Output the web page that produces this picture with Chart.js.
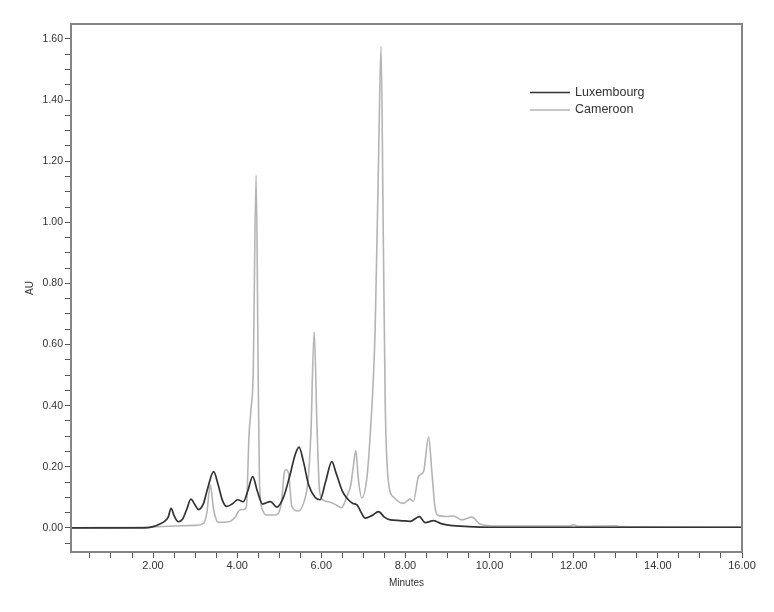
<!DOCTYPE html>
<html>
<head>
<meta charset="utf-8">
<script src="https://cdn.jsdelivr.net/npm/chart.js@4/dist/chart.umd.min.js"></script>
<style>
  html, body { margin: 0; padding: 0; background: #fff; }
  #wrap { width: 774px; height: 612px; }
</style>
</head>
<body>
<div id="wrap"><canvas id="chart" width="774" height="612"></canvas></div>
<script>
// Chromatogram data (minutes, AU)
const seriesNames = ['Luxembourg', 'Cameroon'];

const luxTime = [0.05, 1.8, 2.0, 2.15, 2.28, 2.36, 2.43, 2.5, 2.6, 2.7, 2.8, 2.9, 3.0, 3.08, 3.2, 3.3, 3.44, 3.55, 3.65, 3.75, 3.9, 4.01, 4.15, 4.25, 4.37, 4.48, 4.6, 4.79, 4.94, 5.1, 5.25, 5.38, 5.47, 5.57, 5.7, 5.85, 5.97, 6.1, 6.25, 6.35, 6.5, 6.61, 6.75, 6.85, 6.95, 7.04, 7.2, 7.36, 7.5, 7.64, 7.87, 8.11, 8.33, 8.47, 8.67, 8.85, 9.06, 9.5, 10.0, 16.0];
const luxAU = [0.0, 0.0, 0.004, 0.012, 0.022, 0.035, 0.064, 0.04, 0.02, 0.028, 0.06, 0.094, 0.075, 0.06, 0.08, 0.13, 0.184, 0.14, 0.09, 0.07, 0.08, 0.092, 0.086, 0.12, 0.168, 0.12, 0.078, 0.086, 0.068, 0.1, 0.17, 0.24, 0.264, 0.22, 0.14, 0.1, 0.092, 0.15, 0.217, 0.18, 0.12, 0.097, 0.08, 0.075, 0.05, 0.032, 0.04, 0.053, 0.035, 0.026, 0.024, 0.021, 0.037, 0.017, 0.024, 0.014, 0.008, 0.004, 0.002, 0.002];

const camTime = [0.05, 2.0, 2.5, 3.0, 3.2, 3.28, 3.36, 3.44, 3.55, 3.8, 3.95, 4.07, 4.15, 4.22, 4.28, 4.33, 4.38, 4.45, 4.5, 4.53, 4.6, 4.7, 4.9, 5.05, 5.12, 5.16, 5.22, 5.3, 5.45, 5.6, 5.68, 5.75, 5.83, 5.9, 5.96, 6.05, 6.2, 6.35, 6.48, 6.6, 6.7, 6.76, 6.82, 6.88, 6.96, 7.08, 7.16, 7.28, 7.36, 7.42, 7.47, 7.52, 7.6, 7.72, 7.95, 8.11, 8.19, 8.31, 8.43, 8.55, 8.63, 8.7, 8.76, 8.98, 9.14, 9.34, 9.58, 9.77, 10.2, 11.9, 12.0, 12.1, 13.0, 13.1, 16.0];
const camAU = [0.0, 0.003, 0.006, 0.008, 0.015, 0.05, 0.14, 0.06, 0.018, 0.02, 0.035, 0.059, 0.06, 0.07, 0.3, 0.39, 0.5, 1.155, 0.5, 0.15, 0.06, 0.042, 0.042, 0.08, 0.18, 0.19, 0.18, 0.07, 0.055, 0.09, 0.15, 0.3, 0.642, 0.32, 0.12, 0.09, 0.085, 0.075, 0.066, 0.1, 0.14, 0.2, 0.253, 0.16, 0.098, 0.16, 0.3, 0.65, 1.2, 1.575, 1.0, 0.4, 0.146, 0.1, 0.08, 0.094, 0.087, 0.168, 0.184, 0.297, 0.18, 0.07, 0.042, 0.037, 0.039, 0.026, 0.035, 0.013, 0.006, 0.006, 0.01, 0.005, 0.007, 0.004, 0.002];

// Labelled ticks
const xLabelTicks = [2, 4, 6, 8, 10, 12, 14, 16];
const yLabelTicks = [0, 0.2, 0.4, 0.6, 0.8, 1.0, 1.2, 1.4, 1.6];

const lineColors = ['#333333', '#b4b4b4'];

function toPoints(times, values) {
  return times.map((t, i) => ({ x: t, y: values[i] }));
}

// Box round the plot
const framePlugin = {
  id: 'frame',
  afterDraw(chart) {
    const { ctx, chartArea: a } = chart;
    ctx.save();
    ctx.strokeStyle = '#858585';
    ctx.lineWidth = 2;
    ctx.strokeRect(a.left, a.top, a.right - a.left, a.bottom - a.top);
    ctx.restore();
  }
};

// Axis titles
const titlePlugin = {
  id: 'axisTitles',
  afterDraw(chart) {
    const { ctx, chartArea: a } = chart;
    ctx.save();
    ctx.fillStyle = '#333';
    ctx.font = "10px 'Liberation Sans', Arial, sans-serif";
    ctx.textAlign = 'center';
    ctx.textBaseline = 'middle';
    ctx.fillText('Minutes', (a.left + a.right) / 2, 583);
    ctx.translate(30, (a.top + a.bottom) / 2);
    ctx.rotate(-Math.PI / 2);
    ctx.fillText('AU', 0, 0);
    ctx.restore();
  }
};

// Legend inside the plot, top right
const legendPlugin = {
  id: 'innerLegend',
  afterDraw(chart) {
    const { ctx } = chart;
    ctx.save();
    ctx.font = "12.5px 'Liberation Sans', Arial, sans-serif";
    ctx.textBaseline = 'middle';
    ctx.fillStyle = '#333';
    chart.data.datasets.forEach((ds, i) => {
      const y = 92.5 + i * 17.5;
      ctx.strokeStyle = ds.borderColor;
      ctx.lineWidth = 1.5;
      ctx.beginPath();
      ctx.moveTo(530, y);
      ctx.lineTo(570, y);
      ctx.stroke();
      ctx.fillText(ds.label, 575, y);
    });
    ctx.restore();
  }
};

const ctx = document.getElementById('chart').getContext('2d');

new Chart(ctx, {
  type: 'line',
  data: {
    datasets: [
      {
        label: seriesNames[0],
        data: toPoints(luxTime, luxAU),
        borderColor: lineColors[0],
        borderWidth: 1.7,
        pointRadius: 0,
        cubicInterpolationMode: 'monotone',
        fill: false
      },
      {
        label: seriesNames[1],
        data: toPoints(camTime, camAU),
        borderColor: lineColors[1],
        borderWidth: 1.6,
        pointRadius: 0,
        cubicInterpolationMode: 'monotone',
        fill: false
      }
    ]
  },
  options: {
    responsive: false,
    animation: false,
    devicePixelRatio: 1,
    layout: { padding: { left: 0, top: 24, right: 32, bottom: 0 } },
    plugins: {
      legend: { display: false },
      tooltip: { enabled: false }
    },
    scales: {
      x: {
        type: 'linear',
        min: 0.05,
        max: 16,
        afterBuildTicks(scale) {
          const t = [];
          for (let i = 1; i <= 32; i++) t.push({ value: i * 0.5 });
          scale.ticks = t;
        },
        afterFit(scale) { scale.height = 60; },
        grid: { drawOnChartArea: false, tickLength: 6, color: '#555', tickWidth: 1 },
        border: { display: false },
        ticks: {
          autoSkip: false,
          maxRotation: 0,
          padding: 1,
          color: '#333',
          font: { family: "'Liberation Sans', Arial, sans-serif", size: 11 },
          callback(v) {
            return xLabelTicks.some(t => Math.abs(t - v) < 1e-6) ? v.toFixed(2) : '';
          }
        }
      },
      y: {
        min: -0.079,
        max: 1.649,
        afterBuildTicks(scale) {
          const t = [];
          for (let i = -1; i <= 32; i++) t.push({ value: i * 0.05 });
          scale.ticks = t;
        },
        afterFit(scale) { scale.width = 71; },
        grid: { drawOnChartArea: false, tickLength: 6, color: '#555', tickWidth: 1 },
        border: { display: false },
        ticks: {
          autoSkip: false,
          padding: 2,
          color: '#333',
          font: { family: "'Liberation Sans', Arial, sans-serif", size: 10.5 },
          callback(v) {
            return yLabelTicks.some(t => Math.abs(t - v) < 1e-6) ? v.toFixed(2) : '';
          }
        }
      }
    }
  },
  plugins: [framePlugin, titlePlugin, legendPlugin]
});
</script>
</body>
</html>
